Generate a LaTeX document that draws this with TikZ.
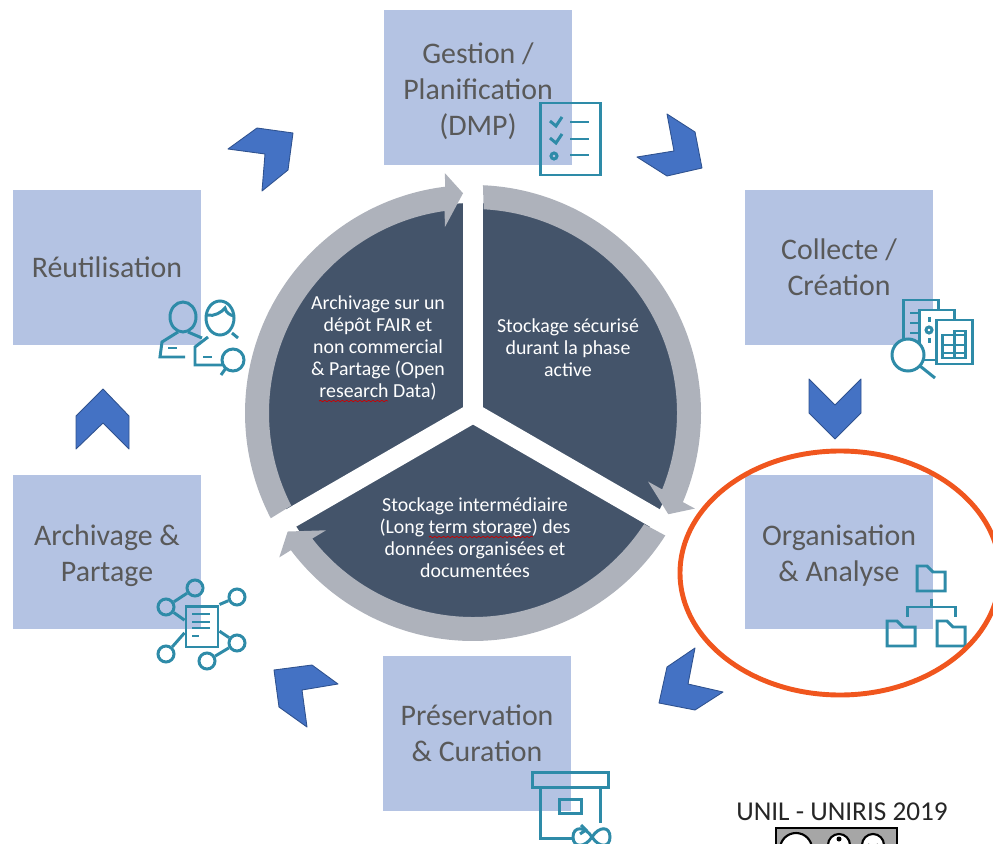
\documentclass[tikz,border=0pt]{standalone}
\usepackage{fontspec}
\setmainfont{Carlito}
\usetikzlibrary{decorations.pathmorphing}
\definecolor{boxblue}{HTML}{B4C3E3}
\definecolor{labelgray}{HTML}{595959}
\definecolor{sectordark}{HTML}{44546A}
\definecolor{ringgray}{HTML}{AEB2BB}
\definecolor{chevblue}{HTML}{4472C4}
\definecolor{chevline}{HTML}{2F528F}
\definecolor{iconteal}{HTML}{2E8BA8}
\definecolor{circleorange}{HTML}{F0561E}
\newcommand{\lowerline}{\rule{0pt}{16pt}}
\tikzset{
	stagebox/.style={rectangle,fill=boxblue,text=labelgray,align=center,inner sep=0pt,minimum width=3.76cm,minimum height=3.1cm,font=\fontsize{17}{20.4}\selectfont},
	sectortext/.style={text=white,align=center,font=\fontsize{11.3}{12.5}\selectfont},
	chevron/.style={fill=chevblue,draw=chevline,line width=0.5pt,line join=round},
	icon/.style={draw=iconteal,line width=1.7pt},
	hub/.style={circle,draw=iconteal,line width=1.7pt,inner sep=0pt,minimum size=0.32cm},
	squiggle/.style={draw=red!80!black,line width=0.4pt,decorate,decoration={snake,amplitude=0.4pt,segment length=2.5pt}}
}
\begin{document}
\begin{tikzpicture}[x=0.02cm,y=-0.02cm]
	\useasboundingbox (0,0) rectangle (993,844);
	\clip (0,0) rectangle (993,844);

	\node[stagebox] (gestion) at (478,87.5) {\lowerline Gestion /\\Planification\\(DMP)};
	\node[stagebox] (collecte) at (839,267.5) {Collecte /\\Création};
	\node[stagebox] (organisation) at (839,552) {\lowerline Organisation\\\& Analyse};
	\node[stagebox] (preservation) at (477,733.5) {Préservation\\\& Curation};
	\node[stagebox] (archivage) at (107,552) {\lowerline Archivage \&\\Partage};
	\node[stagebox] (reutilisation) at (107,267.5) {Réutilisation};

	\fill[sectordark] (473,413) circle [radius=210];
	\foreach \spokeangle in {90,-30,210} {
		\draw[white,line width=0.4cm] (473,413) -- ++(\spokeangle:-218);
	}
	\foreach \ringangle in {0,-120,-240} {
		\begin{scope}[shift={(473,413)},yscale=-1,rotate=\ringangle]
			\fill[ringgray] (207.5:228) arc (207.5:97:228) -- (96.7:241.6) -- (92.6:220) -- (98.6:188) -- (98:204) arc (98:207:204) -- cycle;
		\end{scope}
	}
	\node[sectortext] (sectorarchive) at (378,348) {Archivage sur un\\dépôt FAIR et\\non commercial\\\& Partage (Open\\research Data)};
	\node[sectortext] (sectorsecure) at (568,348) {Stockage sécurisé\\durant la phase\\active};
	\node[sectortext] (sectorlong) at (475,538) {Stockage intermédiaire\\(Long term storage) des\\données organisées et\\documentées};
	\draw[squiggle] (319,401) -- (388,401);
	\draw[squiggle] (429,537) -- (533,537);

	\draw[chevron] (667,114) -- (695,132) -- (702,168) -- (667,176) -- (637,157) -- (674,151) -- cycle;
	\draw[chevron] (809,379) -- (835,405) -- (861,379) -- (861,413) -- (835,439) -- (809,413) -- cycle;
	\draw[chevron] (695,648) -- (667,667) -- (659,703) -- (695,710) -- (723,692) -- (688,684) -- cycle;
	\draw[chevron] (274,670) -- (312,665) -- (338,684) -- (302,690) -- (307,727) -- (279,707) -- cycle;
	\draw[chevron] (103,389) -- (129,416) -- (129,449) -- (103,423) -- (76,449) -- (76,416) -- cycle;
	\draw[chevron] (228,149) -- (257,128) -- (293,133) -- (288,170) -- (262,191) -- (265,154) -- cycle;

	\draw[icon] (540,103) rectangle (600,175);
	\draw[icon] (550,121) -- (556,126) -- (562,117);
	\draw[icon] (550,138) -- (556,143) -- (562,134);
	\draw[icon] (554,156) circle [radius=3];
	\foreach \rowy in {122,139,155} {
		\draw[icon] (570,\rowy) -- (589,\rowy);
	}

	\draw[icon] (903,345) -- (903,300) -- (938,300) -- (938,310);
	\draw[icon,fill=white] (919,310) rectangle (954,360);
	\draw[icon,fill=white] (936,320) rectangle (972,364);
	\foreach \rowy in {313,323,333} {
		\draw[icon] (910,\rowy) -- (918,\rowy);
	}
	\draw[icon] (929,330) circle [radius=3];
	\draw[icon] (929,317) -- (929,322);
	\draw[icon] (929,338) -- (929,343);
	\draw[icon] (942,345) -- (965,345);
	\draw[icon] (942,353) -- (965,353);
	\draw[icon] (942,358) rectangle (965,335);
	\draw[icon] (954,358) -- (954,335) -- (954,331) -- (965,331) -- (965,335);
	\draw[icon,fill=white] (908,355) circle [radius=16];
	\draw[icon] (920,366) -- (935,378);

	\draw[icon] (183,317) circle [x radius=13,y radius=15];
	\draw[icon] (178,332) -- (162,342) -- (160,357) -- (185,357);
	\draw[icon] (188,332) -- (202,338);
	\draw[icon] (168,348) -- (177,348);
	\draw[icon] (220,318) circle [x radius=14,y radius=17];
	\draw[icon] (207,315) .. controls (214,317) and (222,312) .. (225,308) .. controls (226,313) and (230,315) .. (234,316);
	\draw[icon] (208,337) -- (195,347) -- (195,365) -- (222,365);
	\draw[icon] (232,333) -- (238,338);
	\draw[icon] (203,357) -- (212,357);
	\draw[icon] (233,360) circle [radius=11];
	\draw[icon] (226,368) -- (221,375);

	\node[rectangle,draw=iconteal,line width=1.7pt,inner sep=0pt,minimum width=0.64cm,minimum height=0.82cm] (paper) at (202,626.5) {};
	\node[hub] (hubA) at (195,588) {};
	\node[hub] (hubB) at (166,607) {};
	\node[hub] (hubC) at (237,597) {};
	\node[hub] (hubD) at (166,654) {};
	\node[hub] (hubE) at (237,643) {};
	\node[hub] (hubF) at (207,661) {};
	\draw[icon] (hubB) -- (hubA);
	\draw[icon] (hubB) -- (paper.160);
	\draw[icon] (hubC) -- (paper.north east);
	\draw[icon] (hubD) -- (paper.200);
	\draw[icon] (hubE) -- (paper.345);
	\draw[icon] (hubE) -- (hubF);
	\foreach \rowy in {614,622,628} {
		\draw[icon] (192,\rowy) -- (210,\rowy);
	}
	\draw[icon] (192,636) -- (199,636);

	\draw[icon] (532,772) rectangle (608,787);
	\draw[icon] (540,787) -- (540,838) -- (573,838);
	\draw[icon] (600,787) -- (600,823);
	\draw[icon] (559,799) rectangle (581,813);
	\draw[icon] (592,837) .. controls (585,826) and (573,826) .. (573,837) .. controls (573,848) and (585,848) .. (592,837) .. controls (599,826) and (610,826) .. (610,837) .. controls (610,848) and (599,848) .. (592,837);
	\draw[icon] (581,825) -- (586,830) -- (580,834);

	\foreach \fx/\fy in {917/566,887/621,937/621} {
		\draw[icon] (\fx,\fy+25) -- (\fx,\fy) -- (\fx+10,\fy) -- (\fx+16,\fy+6) -- (\fx+28,\fy+6) -- (\fx+28,\fy+25) -- cycle;
	}
	\draw[icon] (931,599) -- (931,607);
	\draw[icon] (907,617) -- (907,607) -- (955,607) -- (955,617);

	\draw[circleorange,line width=2.8pt] (840,573) circle [x radius=160,y radius=122];

	\node[font=\fontsize{15.5}{18}\selectfont,text=black!85] (credit) at (842,812) {UNIL - UNIRIS 2019};
	\draw[black,fill=black!35,line width=0.8pt] (776,828) rectangle (897,860);
	\draw[black,fill=white,line width=1.2pt] (796,849) circle [radius=16];
	\draw[black,fill=white,line width=1.2pt] (839,845) circle [radius=11];
	\draw[black,fill=white,line width=1.2pt] (873,845) circle [radius=11];
	\fill[black] (839,839) circle [radius=2.5];
	\draw[black,line width=1.2pt] (868,844) arc (180:0:5);
\end{tikzpicture}
\end{document}
